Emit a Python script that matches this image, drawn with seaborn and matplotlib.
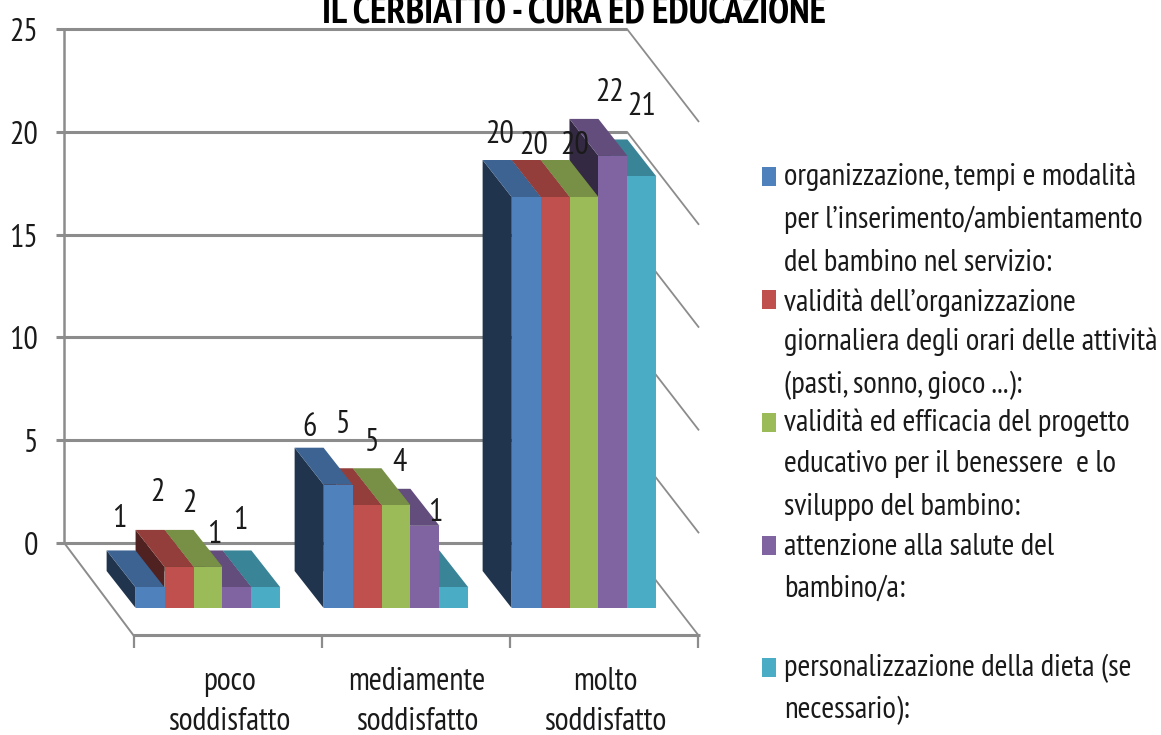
import pandas as pd
import matplotlib
matplotlib.use('Agg')
import matplotlib.pyplot as plt
from matplotlib.patches import Polygon, Rectangle
import seaborn as sns

categories = ['poco\nsoddisfatto', 'mediamente\nsoddisfatto', 'molto\nsoddisfatto']

series_names = [
    'organizzazione, tempi e modalità\nper l’inserimento/ambientamento\ndel bambino nel servizio:',
    'validità dell’organizzazione\ngiornaliera degli orari delle attività\n(pasti, sonno, gioco ...):',
    'validità ed efficacia del progetto\neducativo per il benessere  e lo\nsviluppo del bambino:',
    'attenzione alla salute del\nbambino/a:',
    'personalizzazione della dieta (se\nnecessario):',
]

inserimento = [1, 6, 20]
organizzazione = [2, 5, 20]
progetto = [2, 5, 20]
salute = [1, 4, 22]
dieta = [1, 1, 21]

colors = ['#4F81BD', '#C0504D', '#9BBB59', '#8064A2', '#4BACC6']
y_ticks = [0, 5, 10, 15, 20, 25]
title = 'IL CERBIATTO - CURA ED EDUCAZIONE'

# pixel offsets of the data labels from the top of each bar, they sit oddly in the original
label_dx = [[-31, -29, -26], [-22, -24, -21], [-19, -24, -9], [-23, -25, -3], [-26, -19, 0]]
label_dy = [[68, 57, 62], [74, 80, 51], [63, 62, 51], [52, 63, 63], [66, 74, 69]]

W, H = 1161, 735
BASE_PX = 608      # value 0 at the front of the bars
UNIT_PX = 20.55    # pixels for one unit
CAT0_PX = 208      # first group centre
CAT_PX = 188       # distance between groups
DEPTH_X = 29 / CAT_PX
DEPTH_Y = 37 / UNIT_PX
GRID = '#8C8C8C'

sns.set_theme(style='white')
plt.rcParams['font.family'] = ['PT Sans Narrow', 'Carlito', 'Lato', 'DejaVu Sans']
plt.rcParams['text.color'] = '#1A1A1A'


def px_x(p):
    return (p - CAT0_PX) / CAT_PX


def px_y(p):
    return (BASE_PX - p) / UNIT_PX


def frame_line(ax, x0, y0, x1, y1, lw=2.0):
    ax.plot([px_x(x0), px_x(x1)], [px_y(y0), px_y(y1)], color=GRID, lw=lw, zorder=1,
            solid_capstyle='butt')


fig = plt.figure(figsize=(W / 100, H / 100), dpi=100)
ax = fig.add_axes([0, 0, 1, 1])

rows = []
for name, values in zip(series_names, [inserimento, organizzazione, progetto, salute, dieta]):
    for cat, val in zip(categories, values):
        rows.append({'categoria': cat, 'serie': name, 'valore': val})
df = pd.DataFrame(rows)

sns.barplot(data=df, x='categoria', y='valore', hue='serie', palette=colors, saturation=1,
            width=0.77, gap=0, linewidth=0, legend=False, ax=ax)

ax.set_xlim(px_x(0), px_x(W))
ax.set_ylim(px_y(H), px_y(0))
ax.axis('off')

# back wall, side wall and floor
for v in y_ticks:
    y = 543 - v * 20.56
    frame_line(ax, 56, y, 627, y, 2.2)
    frame_line(ax, 627, y, 699, y + 93, 1.3)
    ax.text(px_x(38), px_y(y + 12), str(v), ha='right', va='baseline', fontsize=23)
frame_line(ax, 64, 29, 64, 543, 1.8)
frame_line(ax, 65, 544, 134, 636, 1.4)
frame_line(ax, 133, 635, 700, 635, 2.2)
for i in range(4):
    x = 134 + i * 188
    frame_line(ax, x, 635, x, 648, 1.6)
for i, cat in enumerate(categories):
    for line, base in zip(cat.split('\n'), [690, 730]):
        ax.text(px_x(229 + i * 188), px_y(base), line, ha='center', va='baseline', fontsize=23)

# the 3d look: each bar gets a darker top and left side, left bars cover the right ones
for s, container in enumerate(ax.containers):
    for c, bar in enumerate(container):
        x0, x1 = bar.get_x(), bar.get_x() + bar.get_width()
        h = bar.get_height()
        z = 10 + (3 - c) * 10 + (4 - s)
        bar.set_zorder(z + 0.2)
        top = Polygon([(x0, h), (x1, h), (x1 - DEPTH_X, h + DEPTH_Y), (x0 - DEPTH_X, h + DEPTH_Y)],
                      facecolor=[ch * 0.77 for ch in matplotlib.colors.to_rgb(colors[s])],
                      linewidth=0, zorder=z + 0.1)
        side = Polygon([(x0, 0), (x0, h), (x0 - DEPTH_X, h + DEPTH_Y), (x0 - DEPTH_X, DEPTH_Y)],
                       facecolor=[ch * 0.41 for ch in matplotlib.colors.to_rgb(colors[s])],
                       linewidth=0, zorder=z)
        ax.add_patch(top)
        ax.add_patch(side)
        ax.annotate(str(int(h)), ((x0 + x1) / 2, h), xytext=(label_dx[s][c], label_dy[s][c]),
                    textcoords='offset pixels', ha='center', va='center', fontsize=23, zorder=100)

ax.text(px_x(574), px_y(23), title, ha='center', va='baseline', fontsize=27.3, fontweight='bold',
        color='black', zorder=100)

# legend, drawn by hand because of its uneven line spacing
line_bases = [[185, 228, 271], [311, 350, 393], [431, 472, 515], [555, 597], [676, 718]]
box_tops = [167, 290, 413, 536, 658]
for s, name in enumerate(series_names):
    ax.add_patch(Rectangle((px_x(762), px_y(box_tops[s] + 19)), 14 / CAT_PX, 19 / UNIT_PX,
                           facecolor=colors[s], linewidth=0))
    for line, base in zip(name.split('\n'), line_bases[s]):
        ax.text(px_x(784), px_y(base), line, ha='left', va='baseline', fontsize=22.2)

fig.savefig('out.png', dpi=100)
